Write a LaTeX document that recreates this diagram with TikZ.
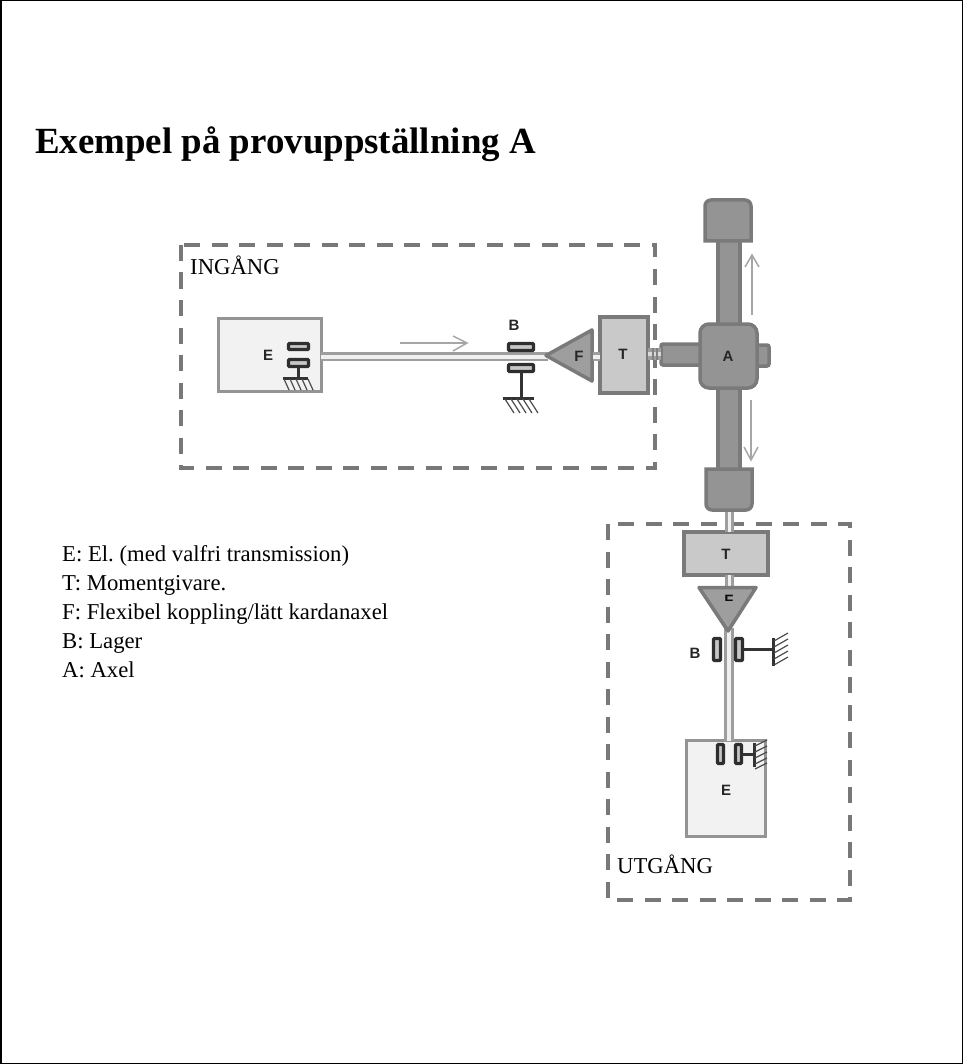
\documentclass[tikz,border=0pt]{standalone}
\usepackage{fontspec}
\setmainfont{Liberation Serif}
\setsansfont{Liberation Sans}
\frenchspacing
\begin{document}
\begin{tikzpicture}[x=1pt,y=-1pt,
   dashbox/.style={draw=black!53,line width=3.5pt,dash pattern=on 16pt off 11.5pt},
   motor/.style={draw=black!42,fill=black!5,line width=3pt,outer sep=0pt,inner sep=0pt,anchor=north west},
   gauge/.style={draw=black!52,fill=black!21,line width=3.5pt,outer sep=0pt,inner sep=0pt,anchor=north west},
   axle/.style={draw=black!52,fill=black!42,line width=3.5pt,outer sep=0pt,inner sep=0pt,anchor=north west},
   shaftline/.style={draw=black!38,line width=9.5pt},
   shaftcore/.style={draw=black!6,line width=4pt},
   wedge/.style={draw=black!52,fill=black!38,line width=3.5pt,line join=round},
   bearing/.style={draw=black!82,fill=black!22,line width=3.4pt,rounded corners=1pt,outer sep=0pt,inner sep=0pt,anchor=north west},
   post/.style={draw=black!80,line width=3pt},
   hatch/.style={draw=black!70,line width=1.2pt},
   motion/.style={draw=black!35,line width=1.5pt},
   part/.style={font=\sffamily\bfseries\fontsize{15}{15}\selectfont,text=black!85,inner sep=0pt},
   caption/.style={font=\fontsize{22.7}{23}\selectfont,inner sep=0pt,anchor=base west}]

\useasboundingbox (0,0) rectangle (963,1064);
\draw[line width=1.5pt] (0.75,0.75) rectangle (962.25,1063.25);

\node[inner sep=0pt,anchor=base west,font=\bfseries\fontsize{36.9}{38}\selectfont] (title) at (35,154) {Exempel på provuppställning A};

% frames
\draw[dashbox] (181,245) rectangle (655,468);
\draw[dashbox] (608,524) rectangle (850,900);
\node[caption] (ingang) at (190,275) {INGÅNG};
\node[caption] (utgang) at (617,873) {UTGÅNG};

% legend
\node[caption] (legE) at (62,561) {E: El. (med valfri transmission)};
\node[caption] (legT) at (62,590) {T: Momentgivare.};
\node[caption] (legF) at (62,619) {F: Flexibel koppling/lätt kardanaxel};
\node[caption] (legB) at (62,648) {B: Lager};
\node[caption] (legA) at (62,677) {A: Axel};

% input side
\node[motor,minimum width=103pt,minimum height=73pt] (motorIn) at (218,318) {};
\node[part] (labelEin) at (268,355) {E};
\coordinate (shaftInEnd) at (548,356.5);
\draw[shaftline] (motorIn.east |- shaftInEnd) -- (shaftInEnd);
\draw[shaftcore] (motorIn.east |- shaftInEnd) -- (shaftInEnd);

\node[bearing,minimum width=20pt,minimum height=6pt] (bearEa) at (288.5,343.5) {};
\node[bearing,minimum width=20pt,minimum height=7pt] (bearEb) at (288.5,359.5) {};
\coordinate (groundE) at (bearEb.south |- 0,378);
\draw[post] (bearEb.south) -- (groundE);
\draw[post] (283,378) -- (308,378);
\foreach \x in {284,290,296,302,308}
   \draw[hatch] (\x,379) -- (\x+5,390);

\node[bearing,minimum width=25pt,minimum height=7pt] (bearBa) at (508.5,343.5) {};
\node[bearing,minimum width=25pt,minimum height=7pt] (bearBb) at (508.5,364.5) {};
\coordinate (groundB) at (bearBb.south |- 0,398);
\draw[post] (bearBb.south) -- (groundB);
\draw[post] (503,398) -- (534,398);
\foreach \x in {505,511,517,523,529}
   \draw[hatch] (\x,399) -- (\x+9,413);
\node[part] (labelBin) at (514,325) {B};

\coordinate (flowA) at (400,343);
\coordinate (flowB) at (467,343);
\draw[motion] (flowA) -- (flowB);
\draw[motion] (453,336) -- (flowB) -- (453,351);

\draw[wedge] (546,355.5) -- (592,330) -- (592,381) -- cycle;
\node[part] (labelFin) at (579,356) {F};

\node[gauge,minimum width=48pt,minimum height=76pt] (gaugeIn) at (600,317) {};
\node[part] (labelTin) at (623,354) {T};
\draw[shaftline] (593,356.5) -- (gaugeIn.west |- 0,356.5);
\draw[shaftcore] (593,356.5) -- (gaugeIn.west |- 0,356.5);

% axle
\node[axle,minimum width=22pt,minimum height=240pt] (arm) at (718,235) {};
\draw[axle] (705,241) [rounded corners=6pt] -- (705,200) -- (751,200) [sharp corners] -- (751,241) -- cycle;
\draw[axle] (706,469) [sharp corners] -- (752,469) [rounded corners=6pt] -- (752,510) -- (706,510) [sharp corners] -- cycle;
\node[axle,rounded corners=2pt,minimum width=44pt,minimum height=21pt] (stubL) at (661,344) {};
\node[axle,rounded corners=2pt,minimum width=16pt,minimum height=21pt] (stubR) at (753,345) {};
\node[axle,rounded corners=9pt,minimum width=57pt,minimum height=64pt] (hub) at (700,324) {};
\node[part] (labelA) at (728,356) {A};
\draw[shaftline,line width=12pt] (gaugeIn.east |- 0,354) -- (stubL.west |- 0,354);
\draw[shaftcore,draw=black!15,line width=4pt] (gaugeIn.east |- 0,354) -- (stubL.west |- 0,354);
\foreach \x in {653,657}
   \draw[draw=black!50,line width=1.2pt] (\x,348) -- (\x,360);

\coordinate (upA) at (752,315);
\coordinate (upB) at (752,255);
\draw[motion] (upA) -- (upB);
\draw[motion] (745,267) -- (upB) -- (759,267);
\coordinate (downA) at (751,400);
\coordinate (downB) at (751,460);
\draw[motion] (downA) -- (downB);
\draw[motion] (744,447) -- (downB) -- (758,447);

% output side
\node[gauge,minimum width=84pt,minimum height=43pt] (gaugeOut) at (684,532) {};
\node[part] (labelTout) at (726,554) {T};
\draw[shaftline,line width=9pt] (729,512) -- (gaugeOut.north -| 729,0);
\draw[shaftcore,line width=3pt] (729,512) -- (gaugeOut.north -| 729,0);
\draw[shaftline,line width=9pt] (gaugeOut.south -| 729,0) -- (729,587);
\draw[shaftcore,line width=3pt] (gaugeOut.south -| 729,0) -- (729,587);

\node[motor,minimum width=79pt,minimum height=96pt] (motorOut) at (686.5,740.5) {};
\node[part] (labelEout) at (726,790) {E};
\coordinate (shaftOutStart) at (729,628);
\draw[shaftline] (shaftOutStart) -- (shaftOutStart |- motorOut.north);
\draw[shaftcore] (shaftOutStart) -- (shaftOutStart |- motorOut.north);

\draw[wedge] (699,587.5) -- (756,587.5) -- (728,631) -- cycle;
\begin{scope}
\clip (700,593) rectangle (755,600);
\node[part,text=black!95] (labelFout) at (729,600) {F};
\end{scope}

\node[bearing,minimum width=7pt,minimum height=22pt] (bearBc) at (713.5,638.5) {};
\node[bearing,minimum width=7pt,minimum height=22pt] (bearBd) at (735.5,638.5) {};
\coordinate (groundBout) at (773,649.5);
\draw[post] (bearBd.east) -- (groundBout);
\draw[post] (773,638) -- (773,666);
\foreach \y in {641,647,653,659,665}
   \draw[hatch] (774,\y) -- (788,\y-8);
\node[part] (labelBout) at (695,653) {B};

\node[bearing,minimum width=6pt,minimum height=19pt] (bearEc) at (717.5,744.5) {};
\node[bearing,minimum width=6pt,minimum height=19pt] (bearEd) at (735.5,744.5) {};
\coordinate (groundEout) at (754,754);
\draw[post] (bearEd.east) -- (groundEout);
\draw[post] (754,743) -- (754,767);
\foreach \y in {746,752,758,764,769}
   \draw[hatch] (755,\y) -- (767,\y-6);

\end{tikzpicture}
\end{document}
